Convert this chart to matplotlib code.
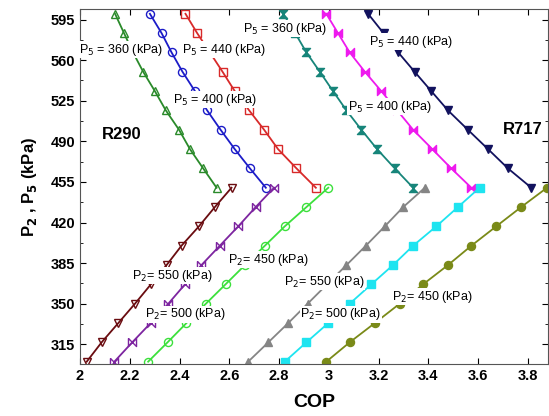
import numpy as np
import matplotlib
matplotlib.use("Agg")
import matplotlib.pyplot as plt
from matplotlib.ticker import MultipleLocator, FormatStrFormatter

plt.rcParams['font.family'] = ['Liberation Sans', 'DejaVu Sans']

# pressures on the y axis
p2_values = [600, 583.3, 566.7, 550, 533.3, 516.7, 500, 483.3, 466.7, 450]
p5_values = [300, 316.7, 333.3, 350, 366.7, 383.3, 400, 416.7, 433.3, 450]

# R290, P5 fixed (COP vs P2)
cop_r290_p5_360 = [2.141, 2.177, 2.213, 2.254, 2.301, 2.345, 2.398, 2.442, 2.495, 2.549]
cop_r290_p5_400 = [2.281, 2.328, 2.368, 2.412, 2.462, 2.511, 2.565, 2.622, 2.683, 2.747]
cop_r290_p5_440 = [2.424, 2.471, 2.522, 2.573, 2.622, 2.680, 2.740, 2.796, 2.870, 2.948]
# R717, P5 fixed
cop_r717_p5_360 = [2.817, 2.865, 2.910, 2.964, 3.017, 3.071, 3.131, 3.194, 3.265, 3.339]
cop_r717_p5_400 = [2.990, 3.037, 3.084, 3.145, 3.211, 3.275, 3.339, 3.416, 3.492, 3.573]
cop_r717_p5_440 = [3.158, 3.220, 3.279, 3.345, 3.412, 3.479, 3.559, 3.640, 3.720, 3.814]

# R290, P2 fixed (COP vs P5)
cop_r290_p2_550 = [2.027, 2.087, 2.154, 2.221, 2.285, 2.348, 2.408, 2.478, 2.542, 2.609]
cop_r290_p2_500 = [2.138, 2.210, 2.284, 2.355, 2.422, 2.488, 2.562, 2.636, 2.706, 2.780]
cop_r290_p2_450 = [2.274, 2.352, 2.428, 2.506, 2.585, 2.663, 2.743, 2.823, 2.910, 2.998]
# R717, P2 fixed
cop_r717_p2_550 = [2.676, 2.757, 2.837, 2.915, 2.993, 3.071, 3.149, 3.225, 3.299, 3.386]
cop_r717_p2_500 = [2.823, 2.910, 2.998, 3.084, 3.171, 3.258, 3.339, 3.432, 3.519, 3.606]
cop_r717_p2_450 = [2.990, 3.084, 3.185, 3.285, 3.379, 3.479, 3.573, 3.673, 3.773, 3.877]

hourglass = [(-1, 1), (1, 1), (-1, -1), (1, -1), (-1, 1)]
bowtie = [(-1, 1), (-1, -1), (1, 1), (1, -1), (-1, 1)]

fig = plt.figure(figsize=(5.49, 4.16), dpi=100)
ax = fig.add_axes([0.1457, 0.125, 0.852, 0.853])

def curve(cop, p, color, marker, filled, ms=5.8):
    ax.plot(cop, p, color=color, lw=1.3, marker=marker, ms=ms,
            mfc=color if filled else 'none', mec=color, mew=1.0, zorder=2)

curve(cop_r290_p5_360, p2_values, '#2a8a2a', '^', False)
curve(cop_r290_p5_400, p2_values, '#1c1cc8', 'o', False)
curve(cop_r290_p5_440, p2_values, '#d82a2a', 's', False)
curve(cop_r717_p5_360, p2_values, '#17857a', hourglass, True)
curve(cop_r717_p5_400, p2_values, '#ee1aee', bowtie, True)
curve(cop_r717_p5_440, p2_values, '#12125e', 'v', True)

curve(cop_r290_p2_550, p5_values, '#6a0c10', 'v', False)
curve(cop_r290_p2_500, p5_values, '#7d25a0', bowtie, False)
curve(cop_r290_p2_450, p5_values, '#3ce03c', 'o', False)
curve(cop_r717_p2_550, p5_values, '#858585', '^', True)
curve(cop_r717_p2_500, p5_values, '#1ee4f0', 's', True)
curve(cop_r717_p2_450, p5_values, '#7a8a18', 'o', True)

box = dict(facecolor='white', edgecolor='none', pad=0.5)
labels = [
    (2.165, 569.1, r'P$_5$ = 360 (kPa)'),
    (2.578, 569.1, r'P$_5$ = 440 (kPa)'),
    (2.542, 526.0, r'P$_5$ = 400 (kPa)'),
    (2.823, 587.2, r'P$_5$ = 360 (kPa)'),
    (3.329, 576.0, r'P$_5$ = 440 (kPa)'),
    (3.245, 520.0, r'P$_5$ = 400 (kPa)'),
    (2.369, 374.3, r'P$_2$= 550 (kPa)'),
    (2.422, 340.7, r'P$_2$= 500 (kPa)'),
    (2.755, 388.1, r'P$_2$= 450 (kPa)'),
    (2.980, 369.1, r'P$_2$= 550 (kPa)'),
    (3.048, 340.7, r'P$_2$= 500 (kPa)'),
    (3.414, 356.2, r'P$_2$= 450 (kPa)'),
]
for x, y, s in labels:
    ax.text(x, y, s, fontsize=9, ha='center', va='center', bbox=box, zorder=5)

ax.text(2.169, 495.9, 'R290', fontsize=12, fontweight='bold', ha='center', va='center')
ax.text(3.779, 500.2, 'R717', fontsize=12, fontweight='bold', ha='center', va='center')

ax.set_xlim(2, 3.88)
ax.set_ylim(298, 604)
ax.xaxis.set_major_locator(MultipleLocator(0.2))
ax.xaxis.set_major_formatter(FormatStrFormatter('%g'))
ax.set_yticks([315, 350, 385, 420, 455, 490, 525, 560, 595])
ax.yaxis.set_minor_locator(MultipleLocator(17.5))
ax.tick_params(direction='in', top=True, right=True, which='both', labelsize=10.5)
ax.tick_params(which='major', length=4)
ax.tick_params(which='minor', length=2.5)
for lab in ax.get_xticklabels() + ax.get_yticklabels():
    lab.set_fontweight('bold')
for sp in ax.spines.values():
    sp.set_color('#555555')

ax.set_xlabel('COP', fontsize=14, fontweight='bold', labelpad=8)
ax.set_ylabel(r'P$_\mathbf{2}$ , P$_\mathbf{5}$ (kPa)', fontsize=12, fontweight='bold', labelpad=8)

fig.savefig('out.png', dpi=100)
